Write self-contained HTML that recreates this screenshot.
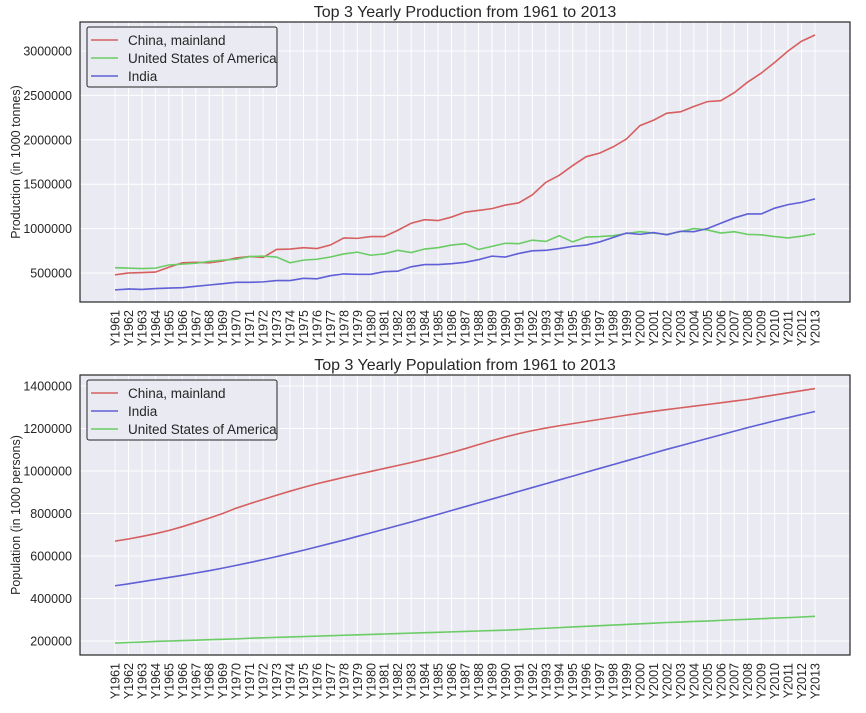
<!DOCTYPE html>
<html><head><meta charset="utf-8"><style>
body{margin:0;background:#fff;}
svg{display:block;font-family:"Liberation Sans",sans-serif;}
</style></head><body>
<svg id="c" width="866" height="713"></svg>
<script>
const years=[];for(let y=1961;y<=2013;y++)years.push('Y'+y);
const prodChina=[480,500,505,510,565,615,620,615,635,670,685,675,765,770,785,775,815,895,890,910,910,980,1060,1100,1090,1130,1185,1205,1225,1265,1290,1380,1520,1600,1710,1810,1850,1920,2010,2160,2220,2300,2315,2375,2430,2440,2530,2650,2750,2870,3000,3110,3180];
const prodUSA=[560,555,550,555,590,600,610,630,645,655,685,690,680,615,645,655,680,715,735,700,715,755,730,770,785,815,830,765,800,835,830,870,855,920,850,905,910,920,945,965,950,935,965,1000,985,950,965,935,930,910,895,915,940];
const prodIndia=[310,320,315,325,330,335,350,365,380,395,395,400,415,415,440,435,470,490,485,485,515,520,570,595,595,605,620,650,690,680,720,750,755,775,800,815,850,900,950,935,955,930,970,965,1000,1060,1120,1165,1165,1230,1270,1295,1335];
const popChina=[670,680,692,705,720,738,758,778,800,825,846,866,886,905,923,940,955,970,984,998,1012,1026,1040,1055,1070,1087,1105,1124,1143,1160,1176,1190,1202,1213,1223,1233,1243,1253,1263,1272,1281,1289,1297,1305,1313,1321,1329,1337,1348,1358,1368,1378,1388];
const popIndia=[460,469,479,489,499,509,520,531,543,556,569,583,597,612,627,643,659,675,692,709,726,743,760,778,796,814,832,850,868,886,904,922,940,958,976,994,1012,1030,1048,1066,1084,1102,1119,1136,1153,1170,1187,1204,1220,1236,1251,1266,1280];
const popUSA=[190,193,195,198,200,202,204,206,208,210,213,215,217,219,221,223,225,227,229,231,233,235,237,239,241,243,245,247,249,251,254,257,260,263,266,269,272,275,278,281,284,287,289,292,294,297,300,302,305,308,310,313,316];
const prodTicks=[500000,1000000,1500000,2000000,2500000,3000000];
const popTicks=[200000,400000,600000,800000,1000000,1200000,1400000];
const RED='#d65f5f',GREEN='#6acc65',BLUE='#5f5fd6';
const NS='http://www.w3.org/2000/svg';
const svg=document.getElementById('c');
function mk(tag,attrs,parent,txt){const e=document.createElementNS(NS,tag);for(const k in attrs)e.setAttribute(k,attrs[k]);if(txt!==undefined)e.textContent=txt;(parent||svg).appendChild(e);return e;}
function panel(o){
  const g=mk('g',{});
  
  
  const L=80,R=850,T=o.top,B=o.bot;
  const bg=mk('rect',{x:L,y:T,width:R-L,height:B-T,fill:'#eaeaf2'},g);
  
  
  const x=i=>115+i*(700/52);
  const y=v=>o.y0+(o.v0-v)*o.k;
  years.forEach((yr,i)=>{
    const ln=mk('line',{x1:x(i),x2:x(i),y1:T,y2:B,stroke:'#fff','stroke-width':1},g);
    
    
    const t=mk('text',{x:0,y:0,transform:`translate(${x(i)+4.5},${B+8}) rotate(-90)`,'text-anchor':'end','font-size':12.5,fill:'#262626'},g,yr);
    
    
  });
  o.ticks.forEach(v=>{
    const ln=mk('line',{x1:L,x2:R,y1:y(v),y2:y(v),stroke:'#fff','stroke-width':1},g);
    
    
    const t=mk('text',{x:72,y:y(v)+4.5,'text-anchor':'end','font-size':12.5,fill:'#262626'},g,String(v));
    
    
  });
  o.series.forEach(s=>{
    const p=mk('polyline',{points:s.d.map((v,i)=>x(i)+','+y(v*1000)).join(' '),fill:'none',stroke:s.c,'stroke-width':1.6},g);
    
    
  });
  const fr=mk('rect',{x:L,y:T,width:R-L,height:B-T,fill:'none',stroke:'#262626','stroke-width':1.2},g);
  
  
  const ti=mk('text',{x:465,y:T-5,'text-anchor':'middle','font-size':16,fill:'#262626'},g,o.title);
  
  
  const yl=mk('text',{x:0,y:0,transform:`translate(20,${(T+B)/2}) rotate(-90)`,'text-anchor':'middle','font-size':12.5,fill:'#262626'},g,o.ylabel);
  
  
  const lg=mk('g',{},g);
  
  
  const ly=T+5;
  mk('rect',{x:87,y:ly,width:190,height:60,rx:2,fill:'#eaeaf2',stroke:'#262626','stroke-width':1},lg);
  o.series.forEach((s,i)=>{
    const yy=ly+13+i*18;
    mk('line',{x1:91,x2:118,y1:yy,y2:yy,stroke:s.c,'stroke-width':1.6},lg);
    const t=mk('text',{x:128,y:yy+5,'font-size':13.5,fill:'#262626'},lg,s.label);
    
    
  });
}
panel({name:'production-chart',top:22,bot:302,y0:51,v0:3000000,k:88.8/1e6,ticks:prodTicks,title:'Top 3 Yearly Production from 1961 to 2013',ylabel:'Production (in 1000 tonnes)',
 series:[{id:'china',label:'China, mainland',c:RED,d:prodChina},{id:'usa',label:'United States of America',c:GREEN,d:prodUSA},{id:'india',label:'India',c:BLUE,d:prodIndia}]});
panel({name:'population-chart',top:375,bot:655,y0:386,v0:1400000,k:255/1.2e6,ticks:popTicks,title:'Top 3 Yearly Population from 1961 to 2013',ylabel:'Population (in 1000 persons)',
 series:[{id:'china',label:'China, mainland',c:RED,d:popChina},{id:'india',label:'India',c:BLUE,d:popIndia},{id:'usa',label:'United States of America',c:GREEN,d:popUSA}]});
</script>
</body></html>
